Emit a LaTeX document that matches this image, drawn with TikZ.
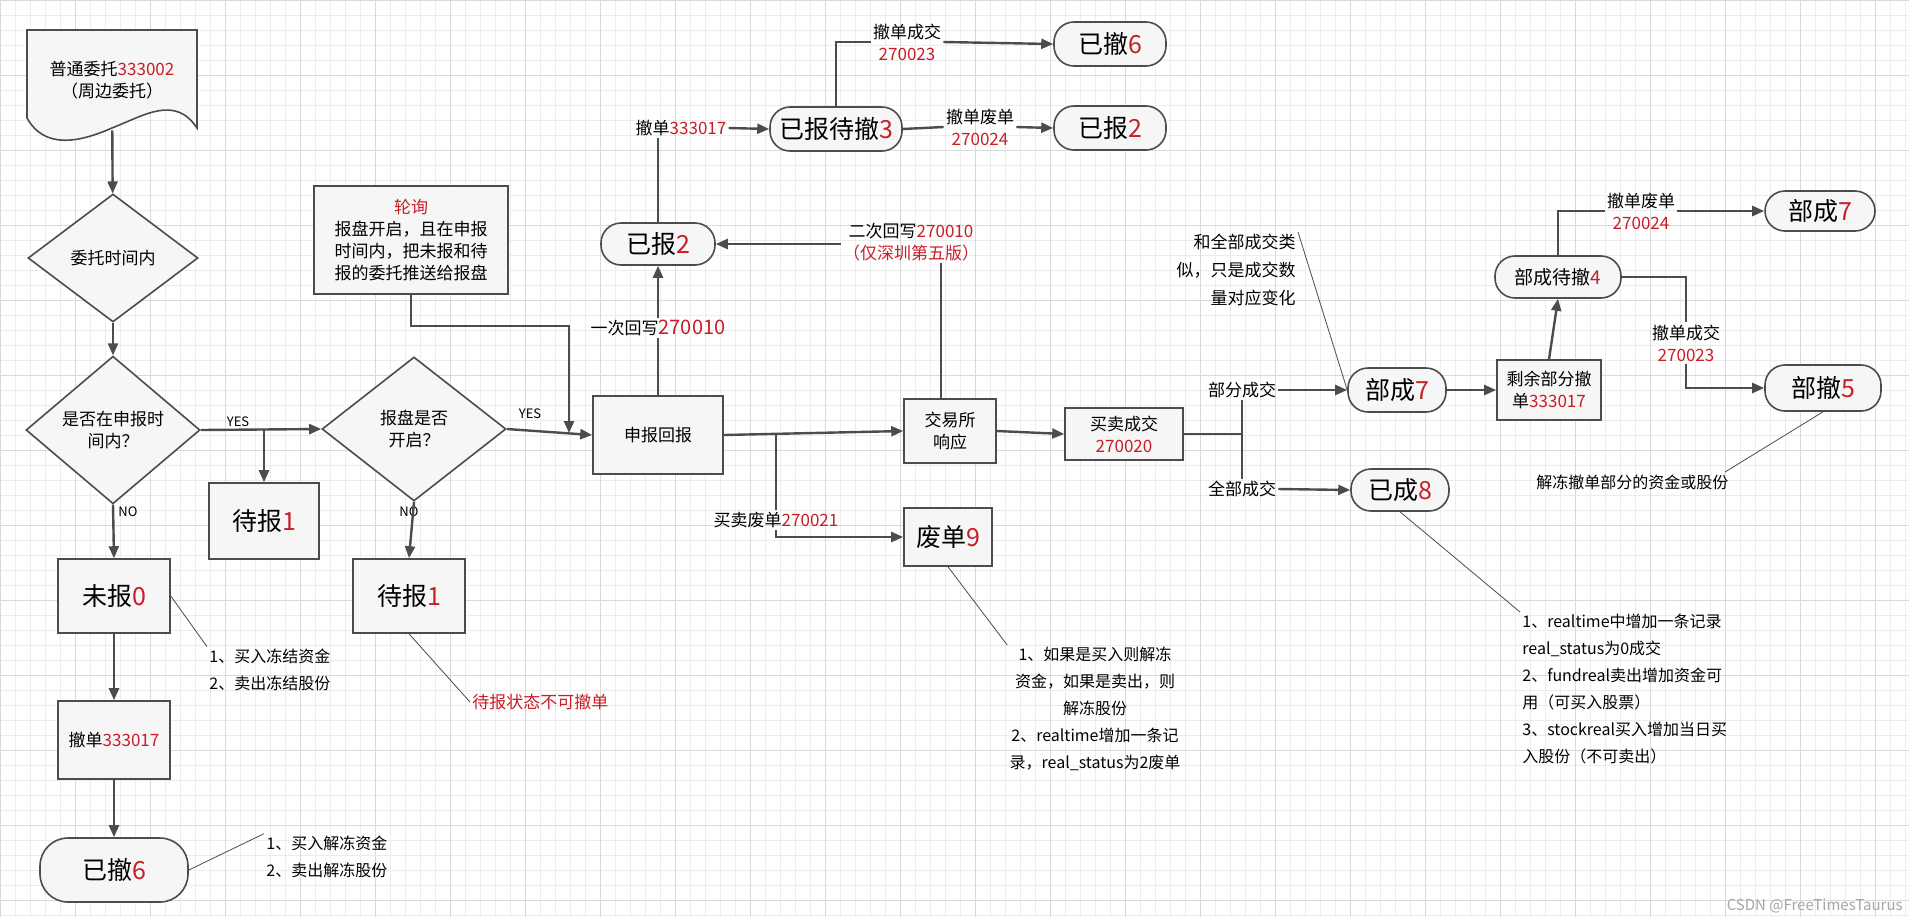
\documentclass[tikz,border=0pt]{standalone}
\usepackage{fontspec}
\setmainfont{Noto Sans CJK SC}
\usepackage{tikz}
\usetikzlibrary{shapes.geometric, arrows.meta, positioning}

\definecolor{codered}{RGB}{200,30,40}
\newcommand{\rn}[1]{\textcolor{codered}{#1}}

\tikzset{
  base/.style={draw=black!70, fill=gray!7, thick, align=center, inner sep=1pt, font=\fontsize{8.5}{11}\selectfont},
  box/.style={base, rectangle},
  big/.style={font=\fontsize{12.5}{14}\selectfont},
  state/.style={base, rounded corners=10pt, big},
  choice/.style={base, diamond},
  lbl/.style={align=center, inner sep=1pt, font=\fontsize{8.5}{11}\selectfont},
  note/.style={align=left, inner sep=1pt, font=\fontsize{8}{13.5}\selectfont},
  arr/.style={very thick, draw=black!70, -{Triangle[length=6pt,width=5pt]}},
  line/.style={very thick, draw=black!70},
  pin/.style={draw=black!70, thin}
}

\begin{document}
\begin{tikzpicture}[x=0.5pt, y=-0.5pt]
    \useasboundingbox (0,0) rectangle (1909,917);
    % grid paper
    \fill[white] (0,0) rectangle (1909,917);
    \foreach \i in {0,15,...,1905} \draw[gray!15] (\i,0) -- (\i,917);
    \foreach \j in {0,15,...,915} \draw[gray!15] (0,\j) -- (1909,\j);
    \foreach \i in {0,75,...,1905} \draw[gray!30] (\i,0) -- (\i,917);
    \foreach \j in {0,75,...,915} \draw[gray!30] (0,\j) -- (1909,\j);

    % left column
    \draw[base] (27,30) -- (197,30) -- (197,128) .. controls (175,95) and (145,115) .. (112,128) .. controls (80,142) and (45,150) .. (27,118) -- cycle;
    \node[lbl, minimum height=50pt] (ord) at (112,80) {普通委托\rn{333002}\\（周边委托）};
    \node[choice, minimum width=85pt, minimum height=64pt] (dia1) at (113,258) {委托时间内};
    \node[choice, minimum width=87pt, minimum height=70pt] (dia2) at (113,430) {是否在申报时\\间内？};
    \node[choice, minimum width=92pt, minimum height=72pt] (dia3) at (414,429) {报盘是否\\开启？};
    \node[box, big, minimum width=55pt, minimum height=38pt] (wb1) at (264,521) {待报\rn{1}};
    \node[box, big, minimum width=56pt, minimum height=37pt] (wb0) at (114,596) {未报\rn{0}};
    \node[box, big, minimum width=56pt, minimum height=37pt] (wb2) at (409,596) {待报\rn{1}};
    \node[box, minimum width=56pt, minimum height=39pt] (cd1) at (114,740) {撤单\rn{333017}};
    \node[state, minimum width=74pt, minimum height=32pt, rounded corners=14pt] (ys1) at (114,870) {已撤\rn{6}};

    \node[box, text width=95pt, minimum height=54pt] (poll) at (411,240) {\rn{轮询}\\报盘开启，且在申报\\时间内，把未报和待\\报的委托推送给报盘};
    \node[box, minimum width=65pt, minimum height=39pt] (sb) at (658,435) {申报回报};
    \node[state, minimum width=57pt, minimum height=21pt] (yb2) at (658,244) {已报\rn{2}};
    \node[state, minimum width=66pt, minimum height=22pt] (ybdc) at (836,129) {已报待撤\rn{3}};
    \node[state, minimum width=56pt, minimum height=22pt] (ys2) at (1110,44) {已撤\rn{6}};
    \node[state, minimum width=56pt, minimum height=22pt] (yb3) at (1110,128) {已报\rn{2}};
    \node[box, minimum width=46pt, minimum height=32pt] (ex) at (950,431) {交易所\\响应};
    \node[box, big, minimum width=44pt, minimum height=29pt] (fd) at (948,537) {废单\rn{9}};
    \node[box, minimum width=59pt, minimum height=26pt] (mm) at (1124,434) {买卖成交\\\rn{270020}};
    \node[state, minimum width=49pt, minimum height=22pt] (bc7) at (1397,390) {部成\rn{7}};
    \node[state, minimum width=49pt, minimum height=21pt] (yc8) at (1400,490) {已成\rn{8}};
    \node[box, minimum width=52pt, minimum height=30pt] (sy) at (1549,390) {剩余部分撤\\单\rn{333017}};
    \node[state, minimum width=63pt, minimum height=21pt, font=\fontsize{9.5}{11}\selectfont] (bcdc) at (1558,277) {部成待撤\rn{4}};
    \node[state, minimum width=55pt, minimum height=20pt] (bc7b) at (1820,211) {部成\rn{7}};
    \node[state, minimum width=58pt, minimum height=23pt] (bc5) at (1823,388) {部撤\rn{5}};

    % connector labels
    \node[lbl, font=\fontsize{6.5}{8}\selectfont] (yes1) at (238,422) {YES};
    \node[lbl, font=\fontsize{6.5}{8}\selectfont] (yes2) at (530,414) {YES};
    \node[lbl, font=\fontsize{6.5}{8}\selectfont] (no1) at (128,512) {NO};
    \node[lbl, font=\fontsize{6.5}{8}\selectfont] (no2) at (409,512) {NO};
    \node[lbl] (l1) at (658,328) {一次回写\rn{\fontsize{10}{11}\selectfont 270010}};
    \node[lbl] (l2) at (681,128) {撤单\rn{333017}};
    \node[lbl] (l3) at (907,42) {撤单成交\\\rn{270023}};
    \node[lbl] (l4) at (980,127) {撤单废单\\\rn{270024}};
    \node[lbl] (l5) at (911,242) {二次回写\rn{270010}\\\rn{（仅深圳第五版）}};
    \node[lbl] (l6) at (776,520) {买卖废单\rn{270021}};
    \node[lbl] (l7) at (1242,390) {部分成交};
    \node[lbl] (l8) at (1242,489) {全部成交};
    \node[lbl] (l9) at (1641,211) {撤单废单\\\rn{270024}};
    \node[lbl] (l10) at (1686,343) {撤单成交\\\rn{270023}};

    % notes
    \node[note, anchor=west] (n1) at (207,670) {1、买入冻结资金\\2、卖出冻结股份};
    \node[note, anchor=west, text=codered, font=\fontsize{8.5}{11}\selectfont] (n2) at (470,702) {待报状态不可撤单};
    \node[note, anchor=west] (n3) at (264,857) {1、买入解冻资金\\2、卖出解冻股份};
    \node[note, align=center, anchor=north] (n4) at (1095,645) {1、如果是买入则解冻\\资金，如果是卖出，则\\解冻股份\\2、realtime增加一条记\\录，real\_status为2废单};
    \node[note, align=right, anchor=north east, font=\fontsize{8.5}{14}\selectfont] (n5) at (1298,232) {和全部成交类\\似，只是成交数\\量对应变化};
    \node[note, anchor=north west] (n6) at (1520,612) {1、realtime中增加一条记录\\real\_status为0成交\\2、fundreal卖出增加资金可\\用（可买入股票）\\3、stockreal买入增加当日买\\入股份（不可卖出）};
    \node[note, anchor=west] (n7) at (1534,482) {解冻撤单部分的资金或股份};
    \node[lbl, anchor=south east, text=gray!70, font=\fontsize{7.5}{9}\selectfont] (wm) at (1905,915) {CSDN @FreeTimesTaurus};

    % flow
    \draw[arr] (ord) -- (dia1);
    \draw[arr] (dia1) -- (dia2);
    \draw[arr] (dia2.east) -- (dia3.west);
    \coordinate (j1) at (264,430);
    \draw[arr] (j1) -- (wb1.north);
    \draw[arr] (dia2.south) -- (wb0.north);
    \draw[arr] (dia3.south) -- (wb2.north);
    \draw[arr] (wb0) -- (cd1);
    \draw[arr] (cd1) -- (ys1);
    \draw[arr] (dia3.east) -- (sb.west);
    \coordinate (pc) at (569,326);
    \coordinate (pj) at (569,433);
    \draw[arr] (poll.south) |- (pc) -- (pj);
    \draw[line] (sb.north) -- (l1.south);
    \draw[arr] (l1.north) -- (yb2.south);
    \draw[line] (yb2.north) -- (yb2.north |- l2.south);
    \draw[arr] (l2.east) -- (ybdc.west);
    \draw[line] (ybdc.north) |- (l3.west);
    \draw[arr] (l3.east) -- (ys2.west);
    \draw[line] (ybdc.east) -- (l4.west);
    \draw[arr] (l4.east) -- (yb3.west);
    \draw[line] (ex.north -| 941,0) -- (l5.south -| 941,0);
    \draw[arr] (l5.west |- yb2.east) -- (yb2.east);
    \draw[arr] (sb.east) -- (ex.west);
    \coordinate (fj) at (776,435);
    \draw[line] (fj) -- (l6.north);
    \draw[arr] (l6.south) |- (fd.west);
    \draw[arr] (ex.east) -- (mm.west);
    \draw[line] (mm.east) -- (mm.east -| l7.south);
    \draw[line] (l7.south) -- (l8.north);
    \draw[arr] (l7.east) -- (bc7.west);
    \draw[arr] (l8.east) -- (yc8.west);
    \draw[arr] (bc7.east) -- (sy.west);
    \draw[arr] (sy.north) -- (bcdc.south);
    \draw[line] (bcdc.north) |- (l9.west);
    \draw[arr] (l9.east) -- (bc7b.west);
    \draw[line] (bcdc.east) -| (l10.north);
    \draw[arr] (l10.south) |- (bc5.west);

    % note pins
    \draw[pin] (wb0.east) -- (n1.north west);
    \draw[pin] (wb2.south) -- (n2.west);
    \draw[pin] (ys1.east) -- (n3.north west);
    \draw[pin] (fd.south) -- (n4.north west);
    \draw[pin] (n5.north east) -- (bc7.west);
    \draw[pin] (yc8.south) -- (n6.north west);
    \draw[pin] (bc5.south) -- ([xshift=-3pt]n7.north east);
\end{tikzpicture}
\end{document}
